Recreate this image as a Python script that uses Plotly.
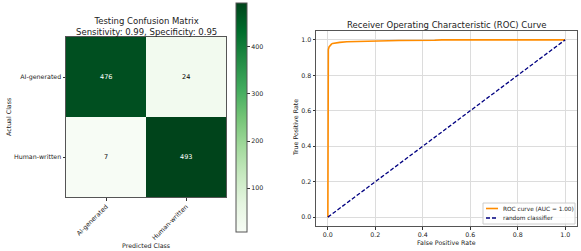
import plotly.graph_objects as go
import plotly.colors as pc

# ---- data ----
classes = ["AI-generated", "Human-written"]
cm_values = [[476, 24], [7, 493]]
cm_title = "Testing Confusion Matrix<br>Sensitivity: 0.99, Specificity: 0.95"
cbar_ticks = [100, 200, 300, 400]

fpr = [0.0, 0.0, 0.0, 0.002, 0.005, 0.01, 0.015, 0.02, 0.03, 0.05, 0.08, 0.12, 0.2, 0.3, 0.45, 0.48, 0.7, 1.0]
tpr = [0.0, 0.5, 0.925, 0.945, 0.96, 0.97, 0.976, 0.98, 0.983, 0.986, 0.989, 0.991, 0.994, 0.996, 0.998, 1.0, 1.0, 1.0]
diag_x = [0.0, 1.0]
diag_y = [0.0, 1.0]
roc_ticks = [0.0, 0.2, 0.4, 0.6, 0.8, 1.0]
roc_label = "ROC curve (AUC = 1.00)"
rand_label = "random classifier"

W, H = 581, 251
FONT = "DejaVu Sans"

def px(x):
    return x / W

def py(y):
    return (H - y) / H

fig = go.Figure()

greens = pc.sequential.Greens
cs = [[i / (len(greens) - 1), c] for i, c in enumerate(greens)]
zmin = min(min(r) for r in cm_values)
zmax = max(max(r) for r in cm_values)

fig.add_trace(go.Heatmap(
    z=cm_values, x=classes, y=classes, colorscale=cs, zmin=zmin, zmax=zmax,
    xaxis="x", yaxis="y", showscale=True, hoverinfo="skip",
    colorbar=dict(
        x=px(236), xanchor="left", thickness=11, thicknessmode="pixels",
        y=py(232), yanchor="bottom", len=(232 - 3) / H, lenmode="fraction",
        xpad=0, ypad=0,
        outlinewidth=1, outlinecolor="#555", tickvals=cbar_ticks,
        ticks="outside", ticklen=3, tickcolor="#333",
        tickfont=dict(size=6.3, color="#222", family=FONT),
    ),
))

fig.add_trace(go.Scatter(
    x=fpr, y=tpr, mode="lines", name=roc_label, showlegend=False,
    line=dict(color="darkorange", width=1.6), xaxis="x2", yaxis="y2",
))
fig.add_trace(go.Scatter(
    x=diag_x, y=diag_y, mode="lines", name=rand_label, showlegend=False,
    line=dict(color="navy", width=1.3, dash="4px,2px"), xaxis="x2", yaxis="y2",
))

annotations = []
thresh = (zmin + zmax) / 2
for i, row in enumerate(cm_values):
    for j, v in enumerate(row):
        annotations.append(dict(
            x=classes[j], y=classes[i], xref="x", yref="y", text=str(v),
            showarrow=False, font=dict(size=6.5, family=FONT,
                                       color="white" if v > thresh else "black"),
        ))

tf = dict(size=8.5, family=FONT, color="#222")
lf = dict(size=6.3, family=FONT, color="#222")
legf = dict(size=5.8, family=FONT, color="#222")
annotations += [
    dict(text=cm_title, x=px(146), y=py(26), xref="paper", yref="paper",
         showarrow=False, font=tf, xanchor="center", yanchor="middle"),
    dict(text="Predicted Class", x=px(146), y=py(245), xref="paper", yref="paper",
         showarrow=False, font=lf, xanchor="center", yanchor="middle"),
    dict(text="Actual Class", x=px(8), y=py(117), xref="paper", yref="paper",
         showarrow=False, font=lf, xanchor="center", yanchor="middle", textangle=-90),
    dict(text="Receiver Operating Characteristic (ROC) Curve", x=px(446.5), y=py(25),
         xref="paper", yref="paper", showarrow=False, font=tf,
         xanchor="center", yanchor="middle"),
    dict(text="False Positive Rate", x=px(446.5), y=py(242.5), xref="paper", yref="paper",
         showarrow=False, font=lf, xanchor="center", yanchor="middle"),
    dict(text="True Positive Rate", x=px(295), y=py(128), xref="paper", yref="paper",
         showarrow=False, font=lf, xanchor="center", yanchor="middle", textangle=-90),
]

# custom compact legend (matplotlib style)
shapes = [
    dict(type="rect", xref="paper", yref="paper", x0=px(483), x1=px(575),
         y0=py(224), y1=py(203), line=dict(color="#ccc", width=1),
         fillcolor="rgba(255,255,255,0.85)", layer="above"),
    dict(type="line", xref="paper", yref="paper", x0=px(486), x1=px(498),
         y0=py(208.5), y1=py(208.5), line=dict(color="darkorange", width=1.6),
         layer="above"),
    dict(type="line", xref="paper", yref="paper", x0=px(486), x1=px(498),
         y0=py(218), y1=py(218), line=dict(color="navy", width=1.3, dash="4px,2px"),
         layer="above"),
]
annotations += [
    dict(text=roc_label, x=px(500.5), y=py(208.5), xref="paper", yref="paper",
         showarrow=False, font=legf, xanchor="left", yanchor="middle"),
    dict(text=rand_label, x=px(500.5), y=py(218), xref="paper", yref="paper",
         showarrow=False, font=legf, xanchor="left", yanchor="middle"),
]

axline = dict(showline=True, linecolor="#555", linewidth=1, mirror=True,
              ticks="outside", ticklen=2.5, tickcolor="#333",
              tickfont=dict(size=6.3, family=FONT, color="#222"), zeroline=False)

fig.update_layout(
    width=W, height=H, margin=dict(l=0, r=0, t=0, b=0),
    paper_bgcolor="white", plot_bgcolor="white",
    font=dict(family=FONT),
    xaxis=dict(domain=[px(66), px(226)], anchor="y", range=[-0.5, 1.5],
               tickangle=-45, showgrid=False, **axline),
    yaxis=dict(domain=[py(197), py(37)], anchor="x", range=[1.5, -0.5],
               showgrid=False, **axline),
    xaxis2=dict(domain=[px(316), px(577)], anchor="y2", range=[-0.05, 1.05],
                tickvals=roc_ticks, tickformat=".1f", showgrid=True,
                gridcolor="#dcdcdc", gridwidth=1, **axline),
    yaxis2=dict(domain=[py(226), py(31)], anchor="x2", range=[-0.05, 1.05],
                tickvals=roc_ticks, tickformat=".1f", showgrid=True,
                gridcolor="#dcdcdc", gridwidth=1, **axline),
    showlegend=False,
    annotations=annotations,
    shapes=shapes,
)

fig.write_html("out.html", config={"displayModeBar": False},
               post_script="document.body.style.margin='0';document.body.style.overflow='hidden';")
